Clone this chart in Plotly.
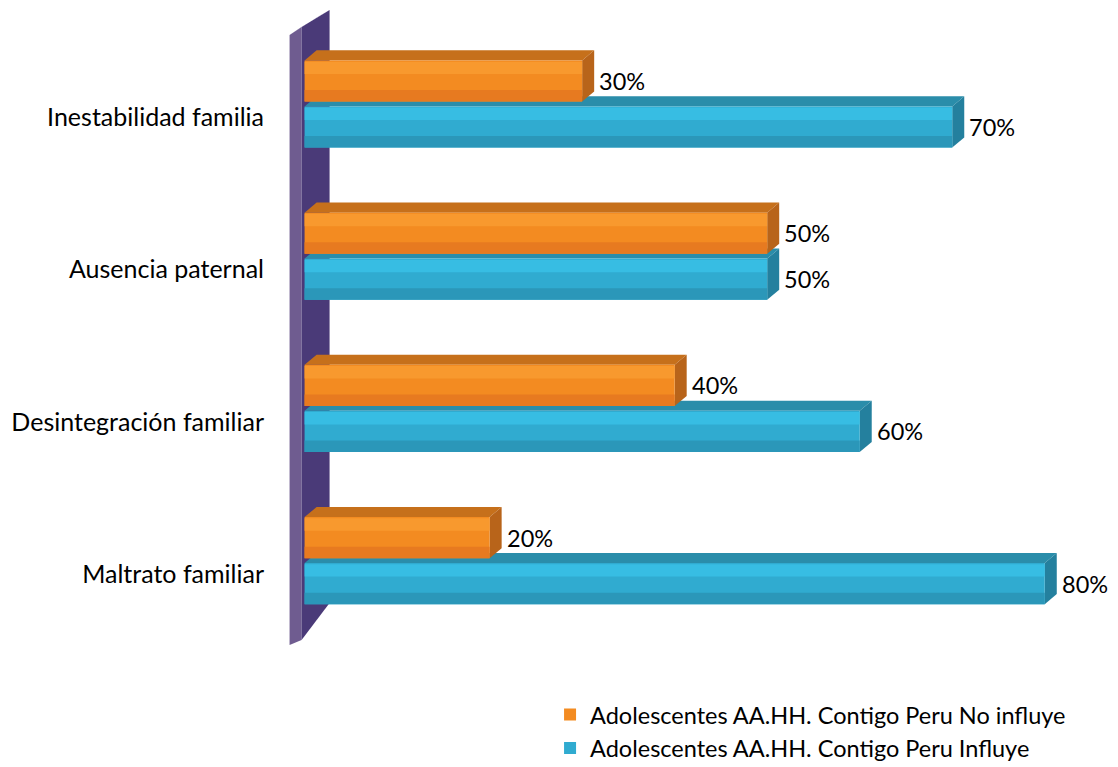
import plotly.graph_objects as go

# ---- data -------------------------------------------------------------
categories = [
    "Inestabilidad familia",
    "Ausencia paternal",
    "Desintegración familiar",
    "Maltrato familiar",
]
no_influye = [30, 50, 40, 20]
influye = [70, 50, 60, 80]
series_names = [
    "Adolescentes AA.HH. Contigo Peru No influye",
    "Adolescentes AA.HH. Contigo Peru Influye",
]

# ---- geometry / style -------------------------------------------------
n = len(categories)
pos = [n - 1 - i for i in range(n)]          # first category at the top
BAR_H = 0.27                                  # front-face thickness (y units)
OFF = 0.151                                   # half distance between paired bars
DX = 1.3                                      # 3D depth, x units
DY = 0.066                                    # 3D depth, y units
LABEL_DROP = 0.088                            # category label below pair centre

FONT = "Lato"
FS_CAT = 25
FS = 23.5

orange = dict(front="#F38B21", light="#F8992E", dark="#E77A20",
              top="#C6701B", side="#B8641A")
blue = dict(front="#30ABD0", light="#37BDE3", dark="#2B97B9",
            top="#2A8DAA", side="#24809E")

W, H = 1118, 767
M = dict(l=287, r=27, t=5, b=112)
X_RANGE = [-1.9, 85]
Y_RANGE = [-0.62, 3.65]

# scale of the plot area, used to express the wall's pixel offsets in axis units
px_x = (W - M["l"] - M["r"]) / (X_RANGE[1] - X_RANGE[0])
px_y = (H - M["t"] - M["b"]) / (Y_RANGE[1] - Y_RANGE[0])


def wall_path(points):
    """points: (dx, dy) pixel offsets from x=0 and the plot bottom (dy up)."""
    coords = [(dx / px_x, Y_RANGE[0] + dy / px_y) for dx, dy in points]
    return "M" + " L".join(f"{x:.4f},{y:.4f}" for x, y in coords) + " Z"


fig = go.Figure()


def add_series(values, yoff, col, name, rank):
    ys = [p + yoff for p in pos]
    # main front face
    fig.add_trace(go.Bar(
        x=values, y=ys, orientation="h", width=BAR_H, base=0,
        marker=dict(color=col["front"], line=dict(width=0)),
        name=name, legendrank=rank, hoverinfo="x+name",
    ))
    # light band along the upper part of the front face
    fig.add_trace(go.Bar(
        x=values, y=[y + BAR_H * 0.32 for y in ys], orientation="h",
        width=BAR_H * 0.3, base=0,
        marker=dict(color=col["light"], line=dict(width=0)),
        showlegend=False, hoverinfo="skip",
    ))
    # darker band along the lower part of the front face
    fig.add_trace(go.Bar(
        x=values, y=[y - BAR_H * 0.36 for y in ys], orientation="h",
        width=BAR_H * 0.28, base=0,
        marker=dict(color=col["dark"], line=dict(width=0)),
        showlegend=False, hoverinfo="skip",
    ))


# blue (lower of each pair) first, orange on top
add_series(influye, -OFF, blue, series_names[1], 2)
add_series(no_influye, OFF, orange, series_names[0], 1)

shapes = []

# purple side wall at x = 0
wall = [
    ([(-15, 620), (-3, 628), (-3, 15), (-15, 10)], "#6F5C90"),   # outer edge
    ([(-3, 628), (25, 645), (25, 52), (-3, 15)], "#4A3A78"),     # inner face
    ([(-15, 620), (-3, 628), (25, 645), (13, 638)], "#9C8DB8"),  # top edge
]
for pts, colr in wall:
    shapes.append(dict(type="path", xref="x", yref="y", layer="below",
                       path=wall_path(pts), fillcolor=colr, line=dict(width=0)))


def top_face(v, yc, color):
    yt = yc + BAR_H / 2
    return dict(type="path", xref="x", yref="y", layer="below",
                path=f"M0,{yt} L{v},{yt} L{v + DX},{yt + DY} L{DX},{yt + DY} Z",
                fillcolor=color, line=dict(width=0))


def side_face(v, yc, color):
    yt = yc + BAR_H / 2
    yb = yc - BAR_H / 2
    return dict(type="path", xref="x", yref="y", layer="below",
                path=f"M{v},{yb} L{v},{yt} L{v + DX},{yt + DY} L{v + DX},{yb + DY} Z",
                fillcolor=color, line=dict(width=0))


for p, vb, vo in zip(pos, influye, no_influye):
    shapes.append(top_face(vb, p - OFF, blue["top"]))
    shapes.append(side_face(vb, p - OFF, blue["side"]))
    shapes.append(top_face(vo, p + OFF, orange["top"]))
    shapes.append(side_face(vo, p + OFF, orange["side"]))

# value labels
annotations = []
for p, vb, vo in zip(pos, influye, no_influye):
    for v, y in ((vo, p + OFF), (vb, p - OFF)):
        annotations.append(dict(
            x=v, y=y, xref="x", yref="y", text=f"{v}%", showarrow=False,
            xanchor="left", yanchor="middle", xshift=15,
            font=dict(family=FONT, size=FS, color="#000000"),
        ))

fig.update_layout(
    width=W, height=H,
    margin=dict(**M, autoexpand=False),
    paper_bgcolor="white", plot_bgcolor="white",
    barmode="overlay",
    shapes=shapes, annotations=annotations,
    font=dict(family=FONT, size=FS, color="#000000"),
    xaxis=dict(range=X_RANGE, showgrid=False, zeroline=False, showline=False,
               showticklabels=False, ticks="", fixedrange=True,
               automargin=False),
    yaxis=dict(
        range=Y_RANGE, showgrid=False, zeroline=False, showline=False,
        tickmode="array", tickvals=[p - LABEL_DROP for p in pos],
        ticktext=categories, ticks="", ticklabelstandoff=22,
        tickfont=dict(family=FONT, size=FS_CAT, color="#000000"),
        fixedrange=True, automargin=False,
    ),
    legend=dict(
        x=0.492, y=0.097, xref="container", yref="container",
        xanchor="left", yanchor="top", orientation="v",
        font=dict(family=FONT, size=FS, color="#000000"),
        bgcolor="rgba(0,0,0,0)", traceorder="normal",
    ),
    showlegend=True,
)

fig.write_html("out.html")
